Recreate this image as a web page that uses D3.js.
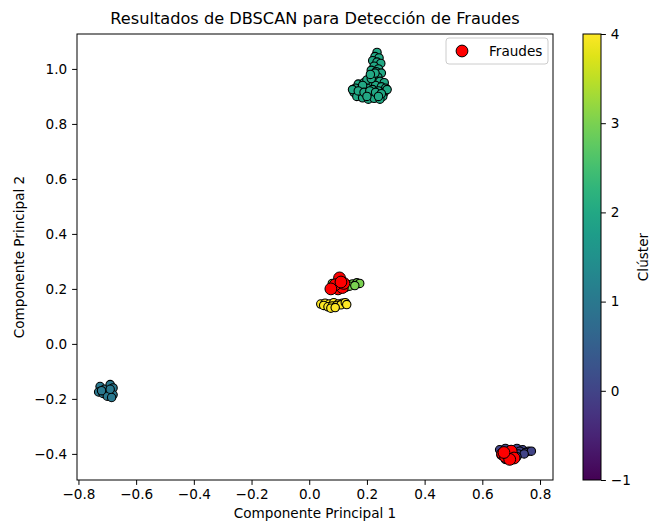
<!DOCTYPE html>
<html>
<head>
<meta charset="utf-8">
<script src="https://cdn.jsdelivr.net/npm/d3@7"></script>
<style>
  body { margin: 0; background: #fff; }
  svg { font-family: "DejaVu Sans", sans-serif; }
</style>
</head>
<body>
<div id="chart"></div>
<script>
// puntos por clúster (componente 1, componente 2)
const cluster0 = [[0.66,-0.385],[0.68,-0.38],[0.70,-0.385],[0.72,-0.38],[0.74,-0.385],[0.76,-0.39],[0.67,-0.395],[0.69,-0.39],[0.71,-0.395],[0.73,-0.39],[0.75,-0.395],[0.77,-0.39],[0.665,-0.405],[0.685,-0.41],[0.705,-0.405],[0.725,-0.40],[0.745,-0.40],[0.68,-0.42],[0.70,-0.415],[0.72,-0.41]];
const cluster1 = [[-0.725,-0.155],[-0.71,-0.165],[-0.69,-0.148],[-0.68,-0.16],[-0.73,-0.175],[-0.715,-0.18],[-0.695,-0.175],[-0.68,-0.185],[-0.70,-0.19],[-0.685,-0.195],[-0.72,-0.17],[-0.69,-0.165]];
const cluster2 = [[0.235,1.06],[0.228,1.045],[0.242,1.04],[0.22,1.03],[0.235,1.025],[0.248,1.02],[0.225,1.01],[0.24,1.0],[0.215,0.995],[0.232,0.99],[0.25,0.985],[0.218,0.975],[0.238,0.97],[0.205,0.96],[0.225,0.958],[0.245,0.955],[0.26,0.95],[0.17,0.945],[0.19,0.95],[0.21,0.945],[0.23,0.94],[0.25,0.935],[0.265,0.93],[0.16,0.93],[0.18,0.925],[0.20,0.93],[0.22,0.925],[0.24,0.92],[0.26,0.915],[0.155,0.915],[0.175,0.91],[0.195,0.905],[0.215,0.91],[0.235,0.905],[0.255,0.90],[0.165,0.90],[0.185,0.895],[0.205,0.89],[0.225,0.893],[0.245,0.89],[0.20,0.96],[0.185,0.94],[0.215,0.965],[0.27,0.925],[0.15,0.925],[0.17,0.92],[0.19,0.915],[0.21,0.92],[0.23,0.915],[0.25,0.91],[0.2,0.9],[0.24,0.9],[0.228,0.985],[0.212,0.98]];
const cluster3 = [[0.08,0.22],[0.10,0.225],[0.12,0.222],[0.135,0.215],[0.15,0.218],[0.165,0.222],[0.175,0.22],[0.09,0.205],[0.125,0.205],[0.14,0.21],[0.158,0.212]];
const cluster4 = [[0.04,0.145],[0.055,0.148],[0.07,0.145],[0.085,0.15],[0.10,0.145],[0.115,0.148],[0.05,0.14],[0.065,0.135],[0.08,0.138],[0.095,0.14],[0.11,0.142],[0.075,0.13],[0.09,0.132],[0.125,0.15],[0.13,0.143]];
const fraudes = [[0.085,0.205],[0.10,0.20],[0.115,0.205],[0.105,0.24],[0.09,0.215],[0.12,0.22],[0.075,0.20],[0.11,0.225],[0.67,-0.40],[0.68,-0.41],[0.69,-0.405],[0.70,-0.39],[0.71,-0.415],[0.695,-0.42],[0.675,-0.395]];

const clusters = [cluster0, cluster1, cluster2, cluster3, cluster4];
const xTicks = [-0.8,-0.6,-0.4,-0.2,0.0,0.2,0.4,0.6,0.8];
const yTicks = [-0.4,-0.2,0.0,0.2,0.4,0.6,0.8,1.0];
const cbTicks = [-1,0,1,2,3,4];

const width = 650, height = 521;
const m = { left: 77, right: 553, top: 34, bottom: 480 };
const fs = 13.6;

const svg = d3.select("#chart").append("svg").attr("width", width).attr("height", height);

const x = d3.scaleLinear().domain([-0.805, 0.845]).range([m.left, m.right]);
const y = d3.scaleLinear().domain([-0.495, 1.127]).range([m.bottom, m.top]);
const color = d3.scaleSequential(d3.interpolateViridis).domain([-1, 4]);
const minus = s => s.replace("-", "\u2212");

// puntos
const pts = [];
clusters.forEach((c, i) => c.forEach(p => pts.push({ x: p[0], y: p[1], k: i })));

svg.append("g").selectAll("circle").data(pts).enter().append("circle")
  .attr("cx", d => x(d.x)).attr("cy", d => y(d.y)).attr("r", 4.2)
  .attr("fill", d => color(d.k)).attr("stroke", "#000").attr("stroke-width", 1.1);

svg.append("g").selectAll("circle").data(fraudes).enter().append("circle")
  .attr("cx", d => x(d[0])).attr("cy", d => y(d[1])).attr("r", 5.9)
  .attr("fill", "red").attr("stroke", "#000").attr("stroke-width", 1);

// ejes
const xAxis = svg.append("g").attr("transform", `translate(0,${m.bottom})`)
  .call(d3.axisBottom(x).tickValues(xTicks).tickFormat(d => minus(d3.format(".1f")(d))).tickSize(4.9).tickPadding(4.9));
const yAxis = svg.append("g").attr("transform", `translate(${m.left},0)`)
  .call(d3.axisLeft(y).tickValues(yTicks).tickFormat(d => minus(d3.format(".1f")(d))).tickSize(4.9).tickPadding(4.9));
[xAxis, yAxis].forEach(g => {
  g.select(".domain").remove();
  g.selectAll("text").attr("font-size", fs).attr("fill", "#000").attr("font-family", "DejaVu Sans");
  g.selectAll("line").attr("stroke", "#000");
});

svg.append("rect").attr("x", m.left).attr("y", m.top)
  .attr("width", m.right - m.left).attr("height", m.bottom - m.top)
  .attr("fill", "none").attr("stroke", "#000").attr("stroke-width", 1);

// textos
svg.append("text").attr("x", (m.left + m.right) / 2).attr("y", 24).attr("text-anchor", "middle")
  .attr("font-size", 16.2).text("Resultados de DBSCAN para Detección de Fraudes");
svg.append("text").attr("x", (m.left + m.right) / 2).attr("y", 518).attr("text-anchor", "middle")
  .attr("font-size", fs).text("Componente Principal 1");
svg.append("text").attr("transform", `translate(24,${(m.top + m.bottom) / 2}) rotate(-90)`)
  .attr("text-anchor", "middle").attr("font-size", fs).text("Componente Principal 2");

// leyenda
const lg = svg.append("g").attr("transform", "translate(446,38)");
lg.append("rect").attr("width", 102).attr("height", 26).attr("rx", 3)
  .attr("fill", "#fff").attr("fill-opacity", 0.8).attr("stroke", "#ccc").attr("stroke-width", 1);
lg.append("circle").attr("cx", 16).attr("cy", 13).attr("r", 5.9)
  .attr("fill", "red").attr("stroke", "#000").attr("stroke-width", 1);
lg.append("text").attr("x", 43).attr("y", 18).attr("font-size", fs).text("Fraudes");

// barra de color
const cbX = 583, cbW = 18;
const cb = d3.scaleLinear().domain([-1, 4]).range([m.bottom, m.top]);
const grad = svg.append("defs").append("linearGradient").attr("id", "vir")
  .attr("x1", 0).attr("y1", 1).attr("x2", 0).attr("y2", 0);
d3.range(0, 1.0001, 0.05).forEach(t => {
  grad.append("stop").attr("offset", t).attr("stop-color", d3.interpolateViridis(t));
});
svg.append("rect").attr("x", cbX).attr("y", m.top).attr("width", cbW).attr("height", m.bottom - m.top)
  .attr("fill", "url(#vir)").attr("stroke", "#000").attr("stroke-width", 1);
const cbAxis = svg.append("g").attr("transform", `translate(${cbX + cbW},0)`)
  .call(d3.axisRight(cb).tickValues(cbTicks).tickFormat(d => minus(String(d))).tickSize(4.9).tickPadding(4.9));
cbAxis.select(".domain").remove();
cbAxis.selectAll("text").attr("font-size", fs).attr("fill", "#000").attr("font-family", "DejaVu Sans");
cbAxis.selectAll("line").attr("stroke", "#000");
svg.append("text").attr("transform", `translate(648,${(m.top + m.bottom) / 2}) rotate(-90)`)
  .attr("text-anchor", "middle").attr("font-size", fs).text("Clúster");
</script>
</body>
</html>
